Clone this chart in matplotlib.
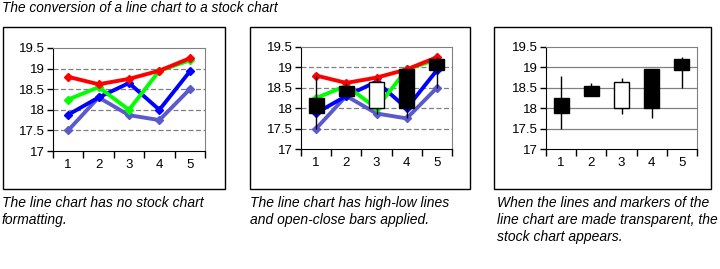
"""Line chart -> stock chart conversion, three panels."""

import matplotlib

matplotlib.use("Agg")

import matplotlib.pyplot as plt
from matplotlib.patches import Rectangle

plt.rcParams["font.family"] = ["Liberation Sans Narrow", "Liberation Sans", "DejaVu Sans"]

categories = ["1", "2", "3", "4", "5"]
open_ = [18.25, 18.55, 18.0, 18.95, 19.2]
high = [18.8, 18.62, 18.75, 18.95, 19.25]
low = [17.5, 18.3, 17.87, 17.75, 18.5]
close = [17.88, 18.3, 18.65, 18.0, 18.93]
yticks = [17, 17.5, 18, 18.5, 19, 19.5]
captions = [
    "The line chart has no stock chart\nformatting.",
    "The line chart has high-low lines\nand open-close bars applied.",
    "When the lines and markers of the\nline chart are made transparent, the\nstock chart appears.",
]
title = "The conversion of a line chart to a stock chart"

W, H = 720, 269
fig = plt.figure(figsize=(W / 100, H / 100), dpi=100)


def fx(px):
    return px / W


def fy(py):
    return 1 - py / H


# outer frames (pixel boxes)
for x0, x1 in [(3, 225), (250, 470), (494, 711)]:
    fig.patches.append(Rectangle((fx(x0), fy(189)), fx(x1 - x0), (189 - 27) / H,
                                 transform=fig.transFigure, fill=False,
                                 edgecolor="black", lw=1.0))

fig.text(fx(2), fy(8), title, fontsize=9.8, style="italic", va="center", ha="left")
for xp, cap in zip([2, 250, 497], captions):
    fig.text(fx(xp), fy(196), cap, fontsize=10, style="italic", va="top", ha="left",
             linespacing=1.25)

axes_px = [(53, 205, 48, 151), (301, 452, 47, 149), (546, 697, 47, 149)]
xs = [i + 0.5 for i in range(len(categories))]

for k, (l, r, t, b) in enumerate(axes_px):
    ax = fig.add_axes([fx(l), fy(b), (r - l) / W, (b - t) / H])
    ax.set_xlim(0, 5)
    ax.set_ylim(17, 19.5)
    ax.set_yticks(yticks)
    ax.set_yticklabels(["17", "17.5", "18", "18.5", "19", "19.5"])
    ax.set_xticks(range(6))
    ax.set_xticklabels([])
    ax.set_xticks(xs, minor=True)
    ax.set_xticklabels(categories, minor=True)
    ax.tick_params(axis="x", which="minor", length=0, pad=6, labelsize=9.5)
    ax.tick_params(axis="x", which="major", length=5, direction="out", width=1)
    ax.tick_params(axis="y", length=4, direction="out", width=1, labelsize=9.5, pad=2)
    for s in ["top", "right"]:
        ax.spines[s].set_color("#808080")
    for s in ["left", "bottom"]:
        ax.spines[s].set_color("black")
    ls = "-" if k == 2 else (0, (4, 2))
    for y in yticks[1:-1]:
        ax.axhline(y, color="#808080", lw=0.9, ls=ls, zorder=0)

    if k < 2:
        for series, col in [(low, "#5a5acc"), (close, "#0000ff"),
                            (open_, "#00ff00"), (high, "#ff0000")]:
            ax.plot(xs, series, color=col, lw=2.8, marker="D", ms=4,
                    solid_joinstyle="miter", zorder=2)
    if k > 0:
        for x, o, h, lo, c in zip(xs, open_, high, low, close):
            ax.vlines(x, lo, h, color="black", lw=1.0, zorder=3)
            bot, top = min(o, c), max(o, c)
            face = "black" if c < o else "white"
            ax.add_patch(Rectangle((x - 0.25, bot), 0.5, top - bot, facecolor=face,
                                   edgecolor="black", lw=1.0, zorder=4))

fig.savefig("out.png", dpi=100, facecolor="white")
